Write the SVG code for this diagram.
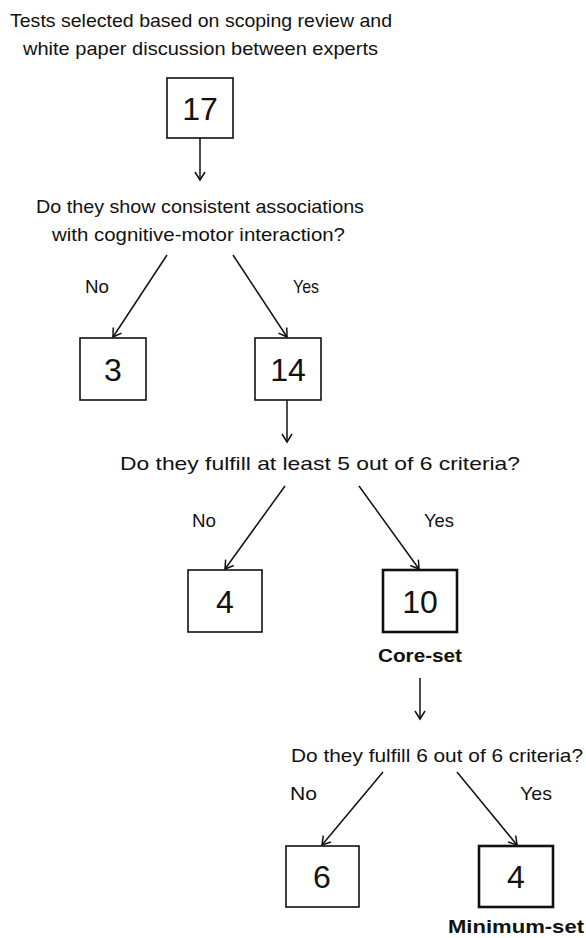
<svg xmlns="http://www.w3.org/2000/svg" width="586" height="938" viewBox="0 0 586 938">
<style>
text{font-family:"Liberation Sans",Arial,sans-serif;fill:#111}
.t{font-size:19px}
.b{font-size:19px;font-weight:bold}
.n{font-size:32px;text-anchor:middle}
.box{fill:#fff;stroke:#111;stroke-width:1.6}
.bold{stroke-width:2.6}
.c{stroke:#111;stroke-width:1.5;fill:none;marker-end:url(#ah)}
</style>
<defs>
<marker id="ah" viewBox="-10 -6 12 12" refX="0" refY="0" markerWidth="12" markerHeight="12" markerUnits="userSpaceOnUse" orient="auto">
<path d="M-8,-5 L0,0 L-8,5" fill="none" stroke="#111" stroke-width="1.5"/>
</marker>
</defs>
<rect width="586" height="938" fill="#fff"/>
<g id="title">
<text class="t" x="10" y="27" textLength="382" lengthAdjust="spacingAndGlyphs">Tests selected based on scoping review and</text>
<text class="t" x="23" y="55" textLength="355" lengthAdjust="spacingAndGlyphs">white paper discussion between experts</text>
</g>
<g id="n17"><rect class="box" x="167" y="78" width="66" height="60"/><text class="n" x="200" y="120">17</text></g>
<g id="q1">
<text class="t" x="36" y="213" textLength="328" lengthAdjust="spacingAndGlyphs">Do they show consistent associations</text>
<text class="t" x="52" y="241" textLength="293" lengthAdjust="spacingAndGlyphs">with cognitive-motor interaction?</text>
</g>
<g id="n3"><rect class="box" x="80" y="338" width="66" height="62"/><text class="n" x="113" y="381">3</text></g>
<g id="n14"><rect class="box" x="255" y="338" width="66" height="62"/><text class="n" x="288" y="381">14</text></g>
<g id="q2"><text class="t" x="120" y="470" textLength="400" lengthAdjust="spacingAndGlyphs">Do they fulfill at least 5 out of 6 criteria?</text></g>
<g id="n4a"><rect class="box" x="188" y="570" width="74" height="62"/><text class="n" x="225" y="613">4</text></g>
<g id="n10"><rect class="box bold" x="383" y="570" width="74" height="62"/><text class="n" x="420" y="613">10</text><text class="b" x="378" y="662" textLength="84" lengthAdjust="spacingAndGlyphs">Core-set</text></g>
<g id="q3"><text class="t" x="291" y="762" textLength="292" lengthAdjust="spacingAndGlyphs">Do they fulfill 6 out of 6 criteria?</text></g>
<g id="n6"><rect class="box" x="286" y="846" width="73" height="61"/><text class="n" x="322" y="888">6</text></g>
<g id="n4b"><rect class="box bold" x="479" y="846" width="74" height="61"/><text class="n" x="516" y="888">4</text><text class="b" x="448" y="933" textLength="136" lengthAdjust="spacingAndGlyphs">Minimum-set</text></g>
<g id="labels">
<text class="t" x="85" y="293" textLength="24" lengthAdjust="spacingAndGlyphs">No</text>
<text class="t" x="293" y="293" textLength="26" lengthAdjust="spacingAndGlyphs">Yes</text>
<text class="t" x="192" y="527" textLength="24" lengthAdjust="spacingAndGlyphs">No</text>
<text class="t" x="424" y="527" textLength="30" lengthAdjust="spacingAndGlyphs">Yes</text>
<text class="t" x="290" y="800" textLength="27" lengthAdjust="spacingAndGlyphs">No</text>
<text class="t" x="520" y="800" textLength="32" lengthAdjust="spacingAndGlyphs">Yes</text>
</g>
<g id="connectors">
<line class="c" x1="200" y1="138" x2="200" y2="180"/>
<line class="c" x1="167" y1="255" x2="113" y2="337"/>
<line class="c" x1="233" y1="255" x2="287" y2="337"/>
<line class="c" x1="287" y1="400" x2="287" y2="442"/>
<line class="c" x1="285" y1="486" x2="225" y2="569"/>
<line class="c" x1="359" y1="486" x2="419" y2="569"/>
<line class="c" x1="420" y1="678" x2="420" y2="719"/>
<line class="c" x1="383" y1="772" x2="322" y2="845"/>
<line class="c" x1="457" y1="772" x2="517" y2="845"/>
</g>
</svg>
